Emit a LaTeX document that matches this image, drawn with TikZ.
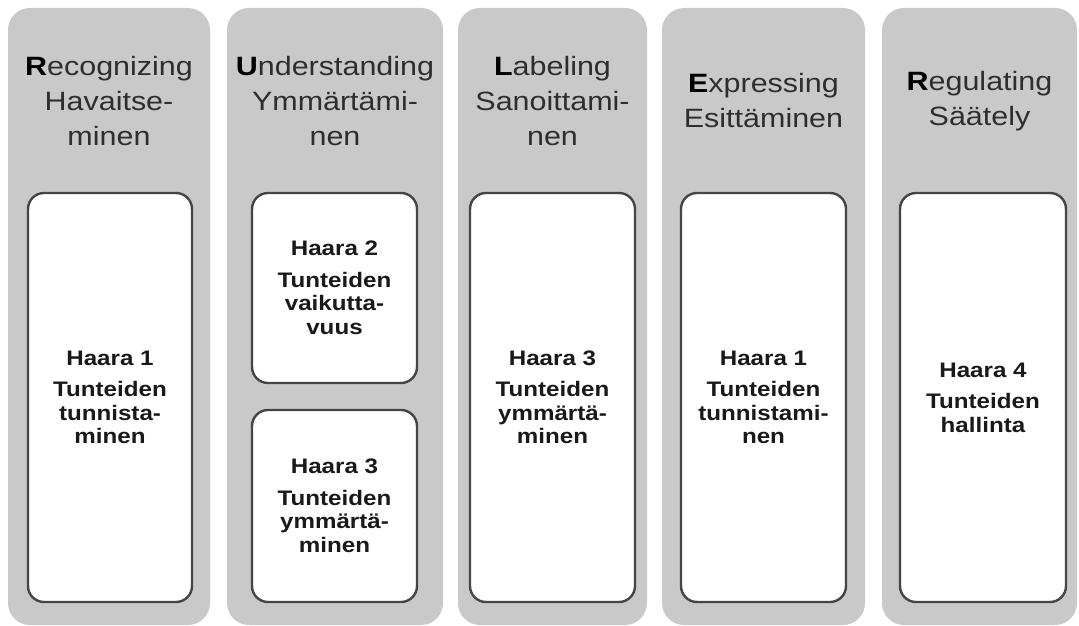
\documentclass[tikz,border=0pt]{standalone}
\usepackage{fontspec}
\usepackage{xcolor}
\newfontfamily\lanefont{Liberation Sans}[FakeStretch=1.15]
\definecolor{lanegray}{HTML}{C9C9C9}
\definecolor{edgegray}{HTML}{454545}
\definecolor{headgray}{HTML}{2E2E2E}
\newcommand{\initial}[1]{\textcolor{black}{\bfseries #1}}

\begin{document}
\begin{tikzpicture}[x=1pt, y=-1pt,
    lane/.style = {fill=lanegray, rounded corners=22pt, minimum height=617pt, inner sep=0pt},
    branch/.style = {draw=edgegray, line width=2.4pt, fill=white, rounded corners=16pt, inner sep=0pt, align=center, font=\lanefont\bfseries\fontsize{21}{23.5}\selectfont, text=black!90},
    head/.style = {align=center, inner sep=0pt, font=\lanefont\fontsize{26.5}{35}\selectfont, text=headgray}]
  \useasboundingbox (0,0) rectangle (1079,626);

  % gray lanes
  \node[lane, minimum width=202pt] (c_1) at (109,316.5) {};
  \node[lane, minimum width=216pt] (c_2) at (335,316.5) {};
  \node[lane, minimum width=189pt] (c_3) at (552.5,316.5) {};
  \node[lane, minimum width=203pt] (c_4) at (763.5,316.5) {};
  \node[lane, minimum width=195pt] (c_5) at (979.5,316.5) {};

  % headings
  \node[head] (t_1) at (109,101) {\initial{R}ecognizing\\Havaitse-\\minen};
  \node[head] (t_2) at (335,101) {\initial{U}nderstanding\\Ymmärtämi-\\nen};
  \node[head] (t_3) at (552.5,101) {\initial{L}abeling\\Sanoittami-\\nen};
  \node[head] (t_4) at (763.5,101) {\initial{E}xpressing\\Esittäminen};
  \node[head] (t_5) at (979.5,101) {\initial{R}egulating\\Säätely};

  % white branch boxes
  \node[branch, minimum width=164pt, minimum height=409pt] (b_1) at (110,397.5) {Haara 1\\[8pt]Tunteiden\\tunnista-\\minen};
  \node[branch, minimum width=165pt, minimum height=190pt] (b_2) at (334.5,288) {Haara 2\\[8pt]Tunteiden\\vaikutta-\\vuus};
  \node[branch, minimum width=165pt, minimum height=192pt] (b_3) at (334.5,506) {Haara 3\\[8pt]Tunteiden\\ymmärtä-\\minen};
  \node[branch, minimum width=165pt, minimum height=409pt] (b_4) at (552.5,397.5) {Haara 3\\[8pt]Tunteiden\\ymmärtä-\\minen};
  \node[branch, minimum width=165pt, minimum height=409pt] (b_5) at (763.5,397.5) {Haara 1\\[8pt]Tunteiden\\tunnistami-\\nen};
  \node[branch, minimum width=166pt, minimum height=409pt] (b_6) at (983,397.5) {Haara 4\\[8pt]Tunteiden\\hallinta};
\end{tikzpicture}
\end{document}
